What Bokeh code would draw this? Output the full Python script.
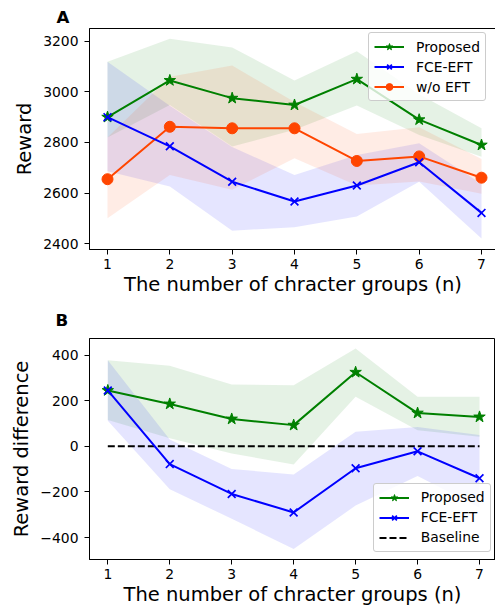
from bokeh.plotting import figure
from bokeh.models import Range1d, FixedTicker, Legend, LegendItem
from bokeh.layouts import column
from bokeh.embed import file_html
from bokeh.resources import INLINE

# ---------------- data ----------------
n_groups = [1, 2, 3, 4, 5, 6, 7]
x_ticks = [1, 2, 3, 4, 5, 6, 7]

# Panel A: reward
prop = [2900, 3045, 2975, 2948, 3050, 2890, 2790]
prop_hi = [3119, 3210, 3175, 3045, 3160, 2990, 2856]
prop_lo = [2820, 2948, 2784, 2850, 2946, 2830, 2744]
fce = [2900, 2785, 2645, 2567, 2630, 2722, 2522]
fce_hi = [3119, 2945, 2782, 2672, 2751, 2797, 2637]
fce_lo = [2686, 2626, 2452, 2465, 2508, 2645, 2421]
wo = [2655, 2862, 2856, 2856, 2727, 2745, 2661]
wo_hi = [2820, 3060, 3104, 2960, 2833, 2860, 2735]
wo_lo = [2501, 2672, 2613, 2738, 2630, 2646, 2598]
a_yticks = [2400, 2600, 2800, 3000, 3200]

# Panel B: reward difference
prop_d = [245, 186, 120, 93, 325, 146, 129]
prop_d_hi = [378, 353, 271, 268, 429, 217, 217]
prop_d_lo = [115, 35, -31, -80, 217, 70, 42]
fce_d = [245, -78, -209, -290, -96, -22, -140]
fce_d_hi = [378, 30, -99, -124, 64, 85, 50]
fce_d_lo = [112, -188, -318, -450, -260, -130, -270]
baseline = [0, 0, 0, 0, 0, 0, 0]
b_yticks = [-400, -200, 0, 200, 400]

labels_methods = ["Proposed", "FCE-EFT", "w/o EFT", "Baseline"]
xlabel_text = "The number of chracter groups (n)"

GREEN = "#008000"
BLUE = "#0000ff"
ORANGE = "#ff4500"
FONT = "DejaVu Sans"
TICK_FS = "13.9px"
LABEL_FS = "19.5px"


def style(p, yticks, ylabel, letter, letter_offset, letter_standoff):
    p.outline_line_color = "black"
    p.outline_line_alpha = 1
    p.outline_line_width = 1
    p.xgrid.visible = False
    p.ygrid.visible = False
    p.background_fill_color = "white"
    p.border_fill_color = "white"
    p.xaxis.ticker = FixedTicker(ticks=x_ticks)
    p.yaxis.ticker = FixedTicker(ticks=yticks)
    p.yaxis.major_label_overrides = {
        v: (("\u2212" + str(-v)) if v < 0 else str(v)) for v in yticks
    }
    for ax in (p.xaxis[0], p.yaxis[0]):
        ax.axis_line_color = "black"
        ax.major_tick_line_color = "black"
        ax.major_tick_in = 0
        ax.major_tick_out = 5
        ax.minor_tick_in = 0
        ax.minor_tick_out = 0
        ax.major_label_text_font = FONT
        ax.major_label_text_font_size = TICK_FS
        ax.major_label_text_color = "black"
        ax.axis_label_text_font = FONT
        ax.axis_label_text_font_size = LABEL_FS
        ax.axis_label_text_font_style = "normal"
        ax.axis_label_text_color = "black"
    p.xaxis.major_label_standoff = 4
    p.yaxis.major_label_standoff = 6
    p.yaxis.axis_label = ylabel
    p.yaxis.axis_label_standoff = 4
    p.xaxis.axis_label = xlabel_text
    p.xaxis.axis_label_standoff = 1
    p.title.text = letter
    p.title.align = "left"
    p.title.vertical_align = "top"
    p.title.offset = letter_offset
    p.title.standoff = letter_standoff
    p.title.text_font = FONT
    p.title.text_font_size = "16.7px"
    p.title.text_font_style = "bold"
    p.title.text_color = "black"


def make_legend(p, items, loc):
    lg = Legend(items=items, location=loc, margin=0, padding=5, spacing=3,
                glyph_width=30, glyph_height=17, label_height=17, label_standoff=12,
                label_text_font=FONT, label_text_font_size=TICK_FS, label_text_color="black",
                border_line_color="#cccccc", border_line_alpha=1, border_line_width=1,
                background_fill_color="white", background_fill_alpha=0.8)
    if "border_radius" in Legend.properties():
        lg.border_radius = 3
    p.add_layout(lg, "center")


# ---------------- panel A ----------------
pA = figure(frame_width=407, frame_height=221, min_border_left=88, min_border_right=0,
            min_border_top=28, min_border_bottom=51,
            x_range=Range1d(0.7112, 7.2406), y_range=Range1d(2377.5, 3250),
            output_backend="svg", toolbar_location=None)
style(pA, a_yticks, "Reward", "A", -33, 0)

pA.varea(x=n_groups, y1=prop_lo, y2=prop_hi, fill_color=GREEN, fill_alpha=0.1)
pA.varea(x=n_groups, y1=fce_lo, y2=fce_hi, fill_color=BLUE, fill_alpha=0.1)
pA.varea(x=n_groups, y1=wo_lo, y2=wo_hi, fill_color=ORANGE, fill_alpha=0.1)

gl = pA.line(n_groups, prop, line_color=GREEN, line_width=2)
gs = pA.scatter(n_groups, prop, marker="star", size=12, fill_color=GREEN, line_color=GREEN)
ol = pA.line(n_groups, wo, line_color=ORANGE, line_width=2)
os_ = pA.scatter(n_groups, wo, marker="circle", size=11, fill_color=ORANGE, line_color=ORANGE)
bl = pA.line(n_groups, fce, line_color=BLUE, line_width=2)
bs = pA.scatter(n_groups, fce, marker="x", size=11, line_color=BLUE, line_width=1.7)

make_legend(pA, [LegendItem(label=labels_methods[0], renderers=[gl, gs]),
                 LegendItem(label=labels_methods[1], renderers=[bl, bs]),
                 LegendItem(label=labels_methods[2], renderers=[ol, os_])], (286, 148))

# ---------------- panel B ----------------
pB = figure(frame_width=406, frame_height=221, min_border_left=89, min_border_right=0,
            min_border_top=38, min_border_bottom=54,
            x_range=Range1d(0.7046, 7.258), y_range=Range1d(-496.5, 473),
            output_backend="svg", toolbar_location=None)
style(pB, b_yticks, "Reward difference", "B", -34, 13)

pB.varea(x=n_groups, y1=prop_d_lo, y2=prop_d_hi, fill_color=GREEN, fill_alpha=0.1)
pB.varea(x=n_groups, y1=fce_d_lo, y2=fce_d_hi, fill_color=BLUE, fill_alpha=0.1)

kl = pB.line(n_groups, baseline, line_color="black", line_width=2, line_dash="7 3")
gl2 = pB.line(n_groups, prop_d, line_color=GREEN, line_width=2)
gs2 = pB.scatter(n_groups, prop_d, marker="star", size=12, fill_color=GREEN, line_color=GREEN)
bl2 = pB.line(n_groups, fce_d, line_color=BLUE, line_width=2)
bs2 = pB.scatter(n_groups, fce_d, marker="x", size=11, line_color=BLUE, line_width=1.7)

make_legend(pB, [LegendItem(label=labels_methods[0], renderers=[gl2, gs2]),
                 LegendItem(label=labels_methods[1], renderers=[bl2, bs2]),
                 LegendItem(label=labels_methods[3], renderers=[kl])], (283.7, 7.3))

layout = column(pA, pB, spacing=0)
open("out.html", "w").write(file_html(layout, INLINE))
